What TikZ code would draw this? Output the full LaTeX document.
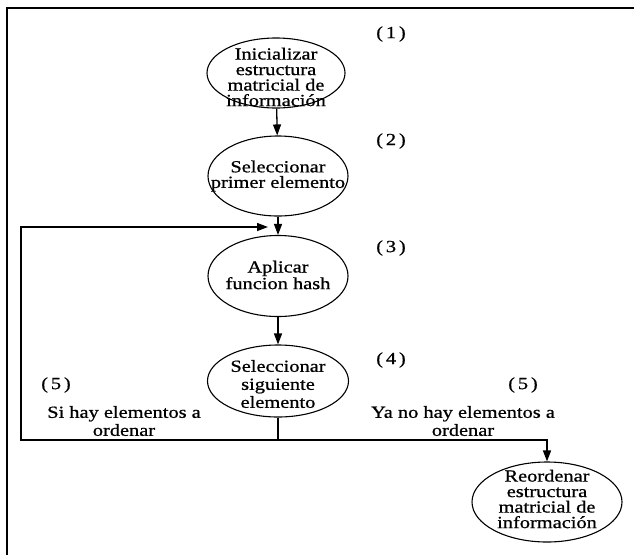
\documentclass[tikz,border=0pt]{standalone}
\usepackage{fontspec}
\setmainfont{Liberation Serif}[FakeStretch=1.2,FakeBold=0.8]
\usetikzlibrary{shapes.geometric,arrows.meta}

\tikzset{
  proc/.style={draw, ellipse, line width=1.1pt, inner sep=0pt},
  txt/.style={align=center, inner sep=0pt, font=\fontsize{17}{15.5}\selectfont},
  tag/.style={inner sep=0pt, font=\fontsize{17}{18}\selectfont},
  flow/.style={line width=1.3pt, -{Triangle[length=11pt,width=8pt]}},
  plain/.style={line width=1.3pt},
  frame/.style={line width=2pt}
}

\begin{document}
\begin{tikzpicture}[x=1pt,y=-1pt]
\useasboundingbox (0,0) rectangle (634,555);

% outer frame (top and left sides)
\coordinate (fl) at (7,555);
\coordinate (fc) at (7,8.3);
\coordinate (fr) at (634,8.3);
\draw[frame] (fl) -- (fc) -- (fr);

% process ellipses
\node[proc, minimum width=138, minimum height=70] (e1) at (276,73) {};
\node[txt] (t1) at (276,77) {Inicializar\\estructura\\matricial de\\información};

\node[proc, minimum width=140, minimum height=80] (e2) at (278,176) {};
\node[txt] (t2) at (278,176) {Seleccionar\\primer elemento};

\node[proc, minimum width=140, minimum height=81] (e3) at (278,276) {};
\node[txt] (t3) at (278,275) {Aplicar\\funcion hash};

\node[proc, minimum width=141, minimum height=72] (e4) at (278,381) {};
\node[txt, font=\fontsize{17}{18}\selectfont] (t4) at (278,384) {Seleccionar\\siguiente\\elemento};

\node[proc, minimum width=150, minimum height=80] (e5) at (547,502) {};
\node[txt] (t5) at (547,499) {Reordenar\\estructura\\matricial de\\información};

% step numbers
\node[tag] (n1) at (391,34) {(\,1\,)};
\node[tag] (n2) at (391,141) {(\,2\,)};
\node[tag] (n3) at (391,248) {(\,3\,)};
\node[tag] (n4) at (391,360) {(\,4\,)};
\node[tag] (n5a) at (56,385) {(\,5\,)};
\node[tag] (n5b) at (523,385) {(\,5\,)};

% branch labels
\node[tag, align=center] (la) at (124,421) {Si hay elementos a\\ordenar};
\node[tag, align=center] (lb) at (463,421) {Ya no hay elementos a\\ordenar};

% main flow
\draw[flow] (e1) -- (e2);
\draw[flow] (e2) -- (e3);
\draw[flow] (e3) -- (e4);

% branch after step 4
\coordinate (j) at (278,440);
\coordinate (jl) at (21,440);
\coordinate (fb) at (268,227);
\draw[plain] (e4.south) -- (j);
\draw[flow] (j) -- (jl) |- (fb);
\draw[flow] (j) -| (e5.north);
\end{tikzpicture}
\end{document}
